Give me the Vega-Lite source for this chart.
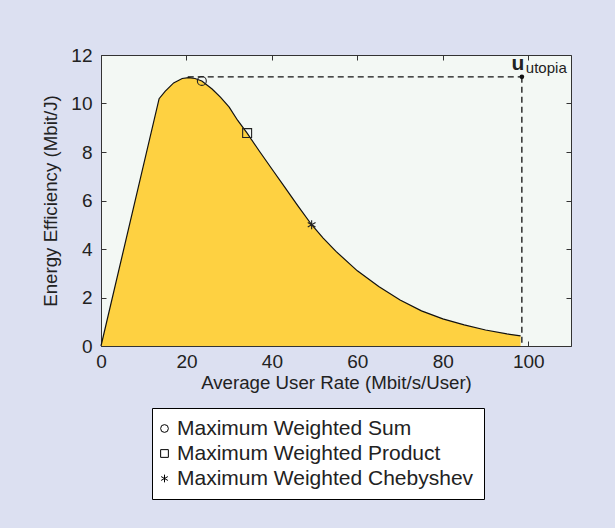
{
  "$schema": "https://vega.github.io/schema/vega-lite/v6.json",
  "width": 470,
  "height": 291,
  "autosize": {"type": "none"},
  "padding": {"left": 101, "top": 55, "right": 44, "bottom": 182},
  "background": "#dce0f1",
  "config": {
    "view": {"fill": "#f3f8f4", "stroke": "#333333", "strokeWidth": 1},
    "font": "Liberation Sans",
    "axis": {
      "grid": false,
      "labelFont": "Liberation Sans",
      "labelFontSize": 19,
      "labelColor": "#222222",
      "labelFlush": false,
      "titleFont": "Liberation Sans",
      "titleFontSize": 18.7,
      "titleFontWeight": "normal",
      "titleColor": "#222222",
      "domain": false,
      "tickColor": "#333333",
      "tickSize": -5
    },
    "legend": {
      "orient": "none",
      "legendX": 51,
      "legendY": 353,
      "fillColor": "white",
      "strokeColor": "black",
      "padding": 10,
      "rowPadding": 3,
      "labelFont": "Liberation Sans",
      "labelFontSize": 21,
      "labelColor": "#222222",
      "labelLimit": 400,
      "symbolSize": 60,
      "symbolOffset": -8,
      "symbolStrokeColor": "black",
      "symbolStrokeWidth": 1,
      "labelOffset": 2
    }
  },
  "datasets": {
    "curve": [
      {"rate": 0, "ee": 0},
      {"rate": 13.6, "ee": 10.2},
      {"rate": 15, "ee": 10.5},
      {"rate": 17, "ee": 10.85},
      {"rate": 19, "ee": 11.03},
      {"rate": 20.5, "ee": 11.07},
      {"rate": 22, "ee": 11.03},
      {"rate": 23.6, "ee": 10.93},
      {"rate": 26, "ee": 10.6},
      {"rate": 28, "ee": 10.25},
      {"rate": 30, "ee": 9.85},
      {"rate": 32, "ee": 9.3},
      {"rate": 34.2, "ee": 8.78},
      {"rate": 37, "ee": 8.05},
      {"rate": 40, "ee": 7.3},
      {"rate": 43, "ee": 6.55},
      {"rate": 46, "ee": 5.8},
      {"rate": 49.3, "ee": 5.0},
      {"rate": 52, "ee": 4.45},
      {"rate": 55, "ee": 3.9},
      {"rate": 60, "ee": 3.1},
      {"rate": 65, "ee": 2.45},
      {"rate": 70, "ee": 1.9},
      {"rate": 75, "ee": 1.45},
      {"rate": 80, "ee": 1.12},
      {"rate": 85, "ee": 0.87},
      {"rate": 90, "ee": 0.66},
      {"rate": 95, "ee": 0.5},
      {"rate": 98.2, "ee": 0.42}
    ],
    "markers": [
      {"rate": 23.6, "ee": 10.93, "marker": "Maximum Weighted Sum"},
      {"rate": 34.2, "ee": 8.78, "marker": "Maximum Weighted Product"},
      {"rate": 49.3, "ee": 5.0, "marker": "Maximum Weighted Chebyshev"}
    ],
    "dashes": [
      {"x1": 20.3, "x2": 98.5, "y1": 11.1, "y2": 11.1},
      {"x1": 98.5, "x2": 98.5, "y1": 11.1, "y2": 0}
    ],
    "utopia": [
      {"rate": 98.5, "ee": 11.1, "label": "u", "sub": "utopia"}
    ]
  },
  "layer": [
    {
      "data": {"name": "curve"},
      "mark": {"type": "area", "color": "#fed141", "opacity": 1},
      "encoding": {
        "x": {"field": "rate", "type": "quantitative", "scale": {"domain": [0, 110], "nice": false},
              "axis": {"orient": "bottom", "values": [0, 20, 40, 60, 80, 100], "title": "Average User Rate (Mbit/s/User)", "labelPadding": 11, "titlePadding": 2}},
        "y": {"field": "ee", "type": "quantitative", "scale": {"domain": [0, 12], "nice": false},
              "axis": {"orient": "left", "values": [0, 2, 4, 6, 8, 10, 12], "title": "Energy Efficiency (Mbit/J)", "labelPadding": 14, "titlePadding": 10}}
      }
    },
    {
      "data": {"name": "curve"},
      "mark": {"type": "line", "color": "#111111", "strokeWidth": 1.2},
      "encoding": {
        "x": {"field": "rate", "type": "quantitative",
              "axis": {"orient": "top", "values": [0, 20, 40, 60, 80, 100], "labels": false, "title": null}},
        "y": {"field": "ee", "type": "quantitative",
              "axis": {"orient": "right", "values": [0, 2, 4, 6, 8, 10, 12], "labels": false, "title": null}}
      }
    },
    {
      "data": {"name": "dashes"},
      "mark": {"type": "rule", "color": "#111111", "strokeWidth": 1.3, "strokeDash": [6, 4]},
      "encoding": {
        "x": {"field": "x1", "type": "quantitative", "axis": null},
        "x2": {"field": "x2"},
        "y": {"field": "y1", "type": "quantitative", "axis": null},
        "y2": {"field": "y2"}
      }
    },
    {
      "data": {"name": "markers"},
      "mark": {"type": "point", "filled": false, "color": "#222222", "strokeWidth": 1.1, "size": 80, "opacity": 1},
      "encoding": {
        "x": {"field": "rate", "type": "quantitative", "axis": null},
        "y": {"field": "ee", "type": "quantitative", "axis": null},
        "shape": {
          "field": "marker", "type": "nominal",
          "scale": {
            "domain": ["Maximum Weighted Sum", "Maximum Weighted Product", "Maximum Weighted Chebyshev"],
            "range": ["circle", "square", "M0,-1L0,1M-0.87,-0.5L0.87,0.5M-0.87,0.5L0.87,-0.5"]
          },
          "legend": {"title": null}
        }
      }
    },
    {
      "data": {"name": "utopia"},
      "mark": {"type": "point", "filled": true, "color": "#111111", "size": 22, "opacity": 1},
      "encoding": {
        "x": {"field": "rate", "type": "quantitative", "axis": null},
        "y": {"field": "ee", "type": "quantitative", "axis": null}
      }
    },
    {
      "data": {"name": "utopia"},
      "mark": {"type": "text", "font": "Liberation Sans", "fontWeight": "bold", "fontSize": 21, "align": "center", "baseline": "alphabetic", "dx": -4, "dy": -7, "color": "#222222"},
      "encoding": {
        "x": {"field": "rate", "type": "quantitative", "axis": null},
        "y": {"field": "ee", "type": "quantitative", "axis": null},
        "text": {"field": "label"}
      }
    },
    {
      "data": {"name": "utopia"},
      "mark": {"type": "text", "font": "Liberation Sans", "fontSize": 15, "align": "left", "baseline": "alphabetic", "dx": 4, "dy": -4, "color": "#222222"},
      "encoding": {
        "x": {"field": "rate", "type": "quantitative", "axis": null},
        "y": {"field": "ee", "type": "quantitative", "axis": null},
        "text": {"field": "sub"}
      }
    }
  ]
}
